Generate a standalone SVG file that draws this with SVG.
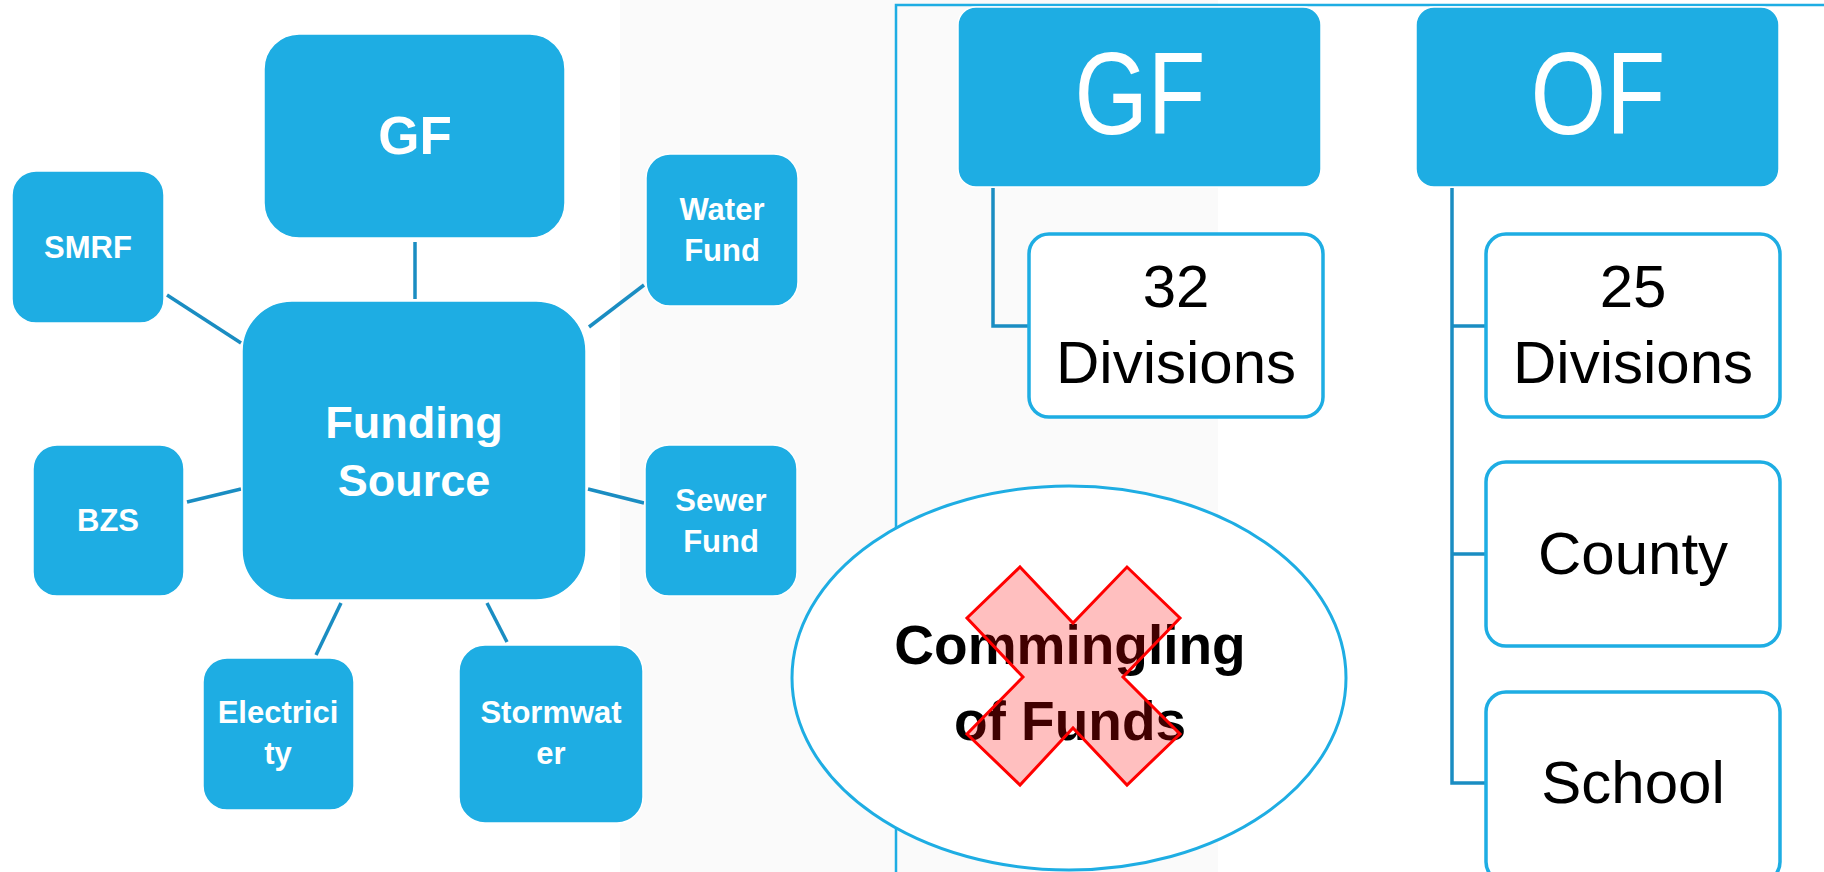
<svg xmlns="http://www.w3.org/2000/svg" width="1824" height="872" viewBox="0 0 1824 872">
<style>
.node{fill:#1EADE3;stroke:#ffffff;stroke-width:1.5}
.wbox{fill:#ffffff;stroke:#1EADE3;stroke-width:3.5}
.lbl{font-family:"Liberation Sans",Arial,sans-serif;font-weight:bold;fill:#ffffff;text-anchor:middle}
.blk{font-family:"Liberation Sans",Arial,sans-serif;fill:#000000;text-anchor:middle}
.conn line,.conn path{stroke:#1A8DC2;stroke-width:3.5;fill:none}
</style>
<rect x="0" y="0" width="1824" height="872" fill="#ffffff"/>
<rect x="620" y="0" width="598" height="872" fill="#FAFAFA"/>
<path d="M896,872 V5 H1824" fill="none" stroke="#1EADE3" stroke-width="2.5"/>

<g class="conn" id="connectors">
<line x1="415" y1="242" x2="415" y2="299"/>
<line x1="167" y1="295" x2="241" y2="343"/>
<line x1="644" y1="285" x2="589" y2="327"/>
<line x1="187" y1="502" x2="241" y2="489"/>
<line x1="588" y1="489" x2="644" y2="503"/>
<line x1="341" y1="603" x2="316" y2="655"/>
<line x1="487" y1="603" x2="507" y2="642"/>
<path d="M993,188 V326 H1029"/>
<path d="M1452,188 V783 H1486 M1452,326 H1486 M1452,554 H1486"/>
</g>

<g id="gf-left">
<rect class="node" x="264" y="34" width="301" height="204" rx="35"/>
<text class="lbl" x="415" y="154" font-size="53">GF</text>
</g>
<g id="smrf">
<rect class="node" x="12" y="171" width="152" height="152" rx="24"/>
<text class="lbl" x="88" y="258" font-size="31">SMRF</text>
</g>
<g id="water-fund">
<rect class="node" x="646" y="154" width="152" height="152" rx="24"/>
<text class="lbl" x="722" y="220" font-size="31">Water</text>
<text class="lbl" x="722" y="261" font-size="31">Fund</text>
</g>
<g id="funding-source">
<rect class="node" x="242" y="301" width="344" height="299" rx="50"/>
<text class="lbl" x="414" y="438" font-size="45">Funding</text>
<text class="lbl" x="414" y="496" font-size="45">Source</text>
</g>
<g id="bzs">
<rect class="node" x="33" y="445" width="151" height="151" rx="24"/>
<text class="lbl" x="108" y="531" font-size="31">BZS</text>
</g>
<g id="sewer-fund">
<rect class="node" x="645" y="445" width="152" height="151" rx="24"/>
<text class="lbl" x="721" y="511" font-size="31">Sewer</text>
<text class="lbl" x="721" y="552" font-size="31">Fund</text>
</g>
<g id="electricity">
<rect class="node" x="203" y="658" width="151" height="152" rx="24"/>
<text class="lbl" x="278" y="723" font-size="31">Electrici</text>
<text class="lbl" x="278" y="764" font-size="31">ty</text>
</g>
<g id="stormwater">
<rect class="node" x="459" y="645" width="184" height="178" rx="26"/>
<text class="lbl" x="551" y="723" font-size="31">Stormwat</text>
<text class="lbl" x="551" y="764" font-size="31">er</text>
</g>

<g id="gf-header">
<rect class="node" x="958" y="7" width="363" height="180" rx="18"/>
<text x="1140" y="134" font-family="Liberation Sans,Arial,sans-serif" font-size="116" fill="#ffffff" text-anchor="middle" textLength="131" lengthAdjust="spacingAndGlyphs">GF</text>
</g>
<g id="of-header">
<rect class="node" x="1416" y="7" width="363" height="180" rx="18"/>
<text x="1598" y="134" font-family="Liberation Sans,Arial,sans-serif" font-size="116" fill="#ffffff" text-anchor="middle" textLength="135" lengthAdjust="spacingAndGlyphs">OF</text>
</g>
<g id="gf-32-divisions">
<rect class="wbox" x="1029" y="234" width="294" height="183" rx="20"/>
<text class="blk" x="1176" y="307" font-size="60">32</text>
<text class="blk" x="1176" y="383" font-size="60">Divisions</text>
</g>
<g id="of-25-divisions">
<rect class="wbox" x="1486" y="234" width="294" height="183" rx="20"/>
<text class="blk" x="1633" y="307" font-size="60">25</text>
<text class="blk" x="1633" y="383" font-size="60">Divisions</text>
</g>
<g id="county">
<rect class="wbox" x="1486" y="462" width="294" height="184" rx="20"/>
<text class="blk" x="1633" y="574" font-size="60">County</text>
</g>
<g id="school">
<rect class="wbox" x="1486" y="692" width="294" height="190" rx="20"/>
<text class="blk" x="1633" y="803" font-size="60">School</text>
</g>

<g id="commingling">
<ellipse cx="1069" cy="678" rx="277" ry="192" fill="#ffffff" stroke="#1EADE3" stroke-width="3"/>
<text class="blk" x="1070" y="664" font-size="55" font-weight="bold">Commingling</text>
<text class="blk" x="1070" y="740" font-size="55" font-weight="bold">of Funds</text>
<polygon points="1020,567 1073,623 1127,567 1180,618 1123,677 1180,734 1127,785 1073,728 1020,785 967,734 1023,677 967,618" fill="#FF0000" fill-opacity="0.25" stroke="#FF0000" stroke-width="3" stroke-linejoin="miter"/>
</g>
</svg>
